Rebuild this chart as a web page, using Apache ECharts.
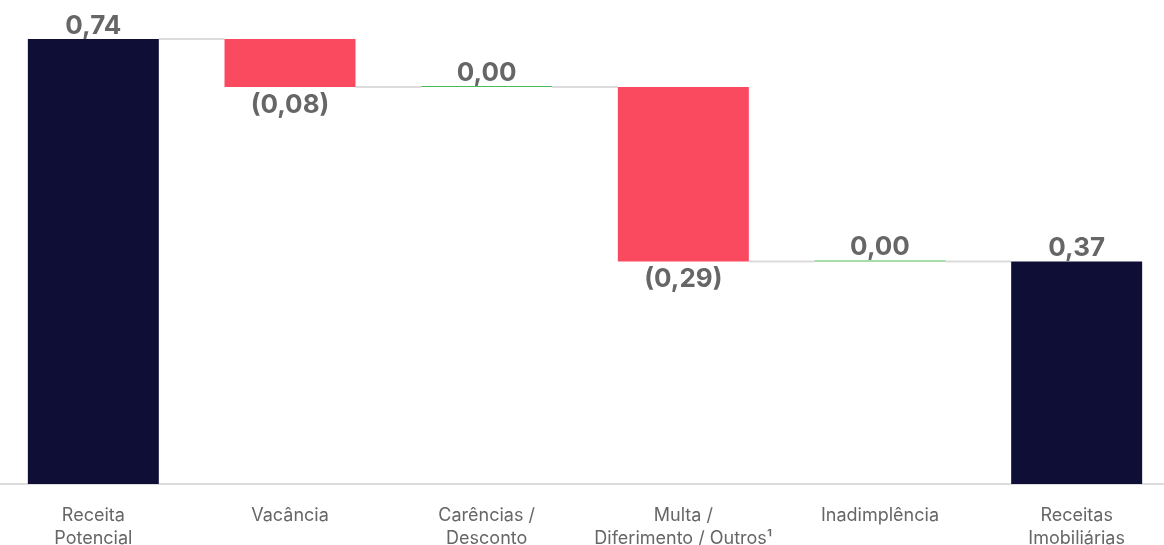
<!DOCTYPE html>
<html>
<head>
<meta charset="utf-8">
<script src="https://cdn.jsdelivr.net/npm/echarts@6/dist/echarts.min.js"></script>
<style>
html,body{margin:0;padding:0;background:#fff;overflow:hidden;width:1164px;height:545px;position:relative;}
#c{position:absolute;left:-5px;top:0;width:1180px;height:545px;}
</style>
</head>
<body>
<div id="c"></div>
<script>
const categories = ['Receita\nPotencial', 'Vacância', 'Carências /\nDesconto', 'Multa /\nDiferimento / Outros¹', 'Inadimplência', 'Receitas\nImobiliárias'];
const deltas = [0.74, -0.08, 0.00, -0.29, 0.00, 0.37];
const isTotal = [true, false, false, false, false, true];

const NAVY = '#0e0e37', RED = '#f94a60', GREEN = '#4cbb5a', GRAY = '#dcdcdc';

const base = [], totals = [], decs = [], incs = [], levels = [];
let cum = 0;
for (let i = 0; i < deltas.length; i++) {
  const d = deltas[i];
  if (isTotal[i]) {
    cum = d;
    base.push(0); totals.push(d); decs.push('-'); incs.push('-');
  } else if (d < 0) {
    cum = +(cum + d).toFixed(4);
    base.push(cum); totals.push('-'); decs.push(-d); incs.push('-');
  } else {
    base.push(cum); totals.push('-'); decs.push('-'); incs.push(d);
    cum = +(cum + d).toFixed(4);
  }
  levels.push(cum);
}
const connectors = [];
for (let i = 0; i < deltas.length - 1; i++) connectors.push([i, levels[i]]);

function fmt(v) { return v.toFixed(2).replace('.', ','); }
const labelBase = { show: true, fontFamily: 'Inter', fontWeight: 'bold', fontSize: 26, color: '#666666' };

const chart = echarts.init(document.getElementById('c'), null, { renderer: 'canvas' });
chart.setOption({
  animation: false,
  grid: { left: 0, right: 0, top: 39, bottom: 61, containLabel: false, outerBoundsMode: 'none' },
  xAxis: {
    type: 'category', data: categories,
    axisLine: { show: true, lineStyle: { color: GRAY, width: 2 } },
    axisTick: { show: false },
    axisLabel: { interval: 0, fontFamily: 'Inter', fontSize: 18, color: '#666666', lineHeight: 23, margin: 20 }
  },
  yAxis: { type: 'value', min: 0, max: 0.74, show: false, splitLine: { show: false } },
  series: [
    { type: 'bar', stack: 'w', data: base, barWidth: '66.6%', itemStyle: { color: 'transparent' }, silent: true },
    { type: 'bar', stack: 'w', data: totals, itemStyle: { color: NAVY },
      label: Object.assign({}, labelBase, { position: 'top', distance: 0, formatter: p => fmt(p.value) }) },
    { type: 'bar', stack: 'w', data: decs, itemStyle: { color: RED },
      label: Object.assign({}, labelBase, { position: 'bottom', distance: 5, formatter: p => '(' + fmt(p.value) + ')' }) },
    { type: 'bar', stack: 'w', data: incs, barMinHeight: 1, itemStyle: { color: GREEN },
      label: Object.assign({}, labelBase, { position: 'top', distance: 0, formatter: p => fmt(p.value) }) },
    { type: 'custom', data: connectors, z: 1,
      renderItem: function (params, api) {
        const p = api.coord([api.value(0), api.value(1)]);
        const bw = api.size([1, 0])[0];
        const half = bw * 0.333;
        return { type: 'line', shape: { x1: p[0] + half, y1: p[1], x2: p[0] + bw - half, y2: p[1] },
          style: { stroke: GRAY, lineWidth: 2 } };
      } }
  ]
});
</script>
</body>
</html>
